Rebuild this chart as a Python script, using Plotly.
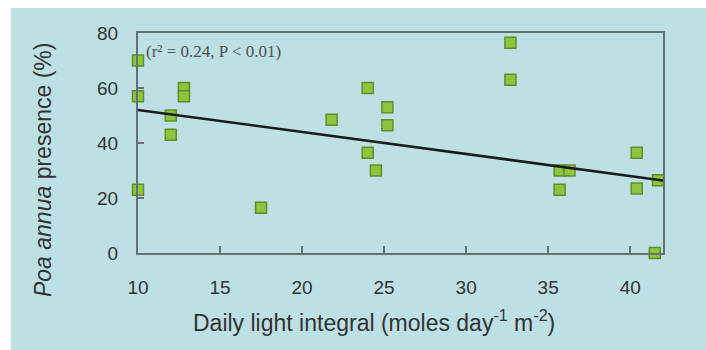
import plotly.graph_objects as go
import numpy as np

# Data
light_integral = [10.0, 10.0, 10.0, 12.0, 12.0, 12.8, 12.8, 17.5, 21.8, 24.0, 24.0, 24.5,
                  25.2, 25.2, 32.7, 32.7, 35.7, 36.3, 35.7, 40.4, 40.4, 41.7, 41.5]
poa_presence = [70.0, 57.0, 23.0, 50.0, 43.0, 60.0, 57.0, 16.5, 48.5, 60.0, 36.5, 30.0,
                53.0, 46.5, 76.5, 63.0, 30.0, 30.0, 23.0, 36.5, 23.5, 26.5, 0.0]

fit_intercept = 60.0   # regression y = intercept + slope * x
fit_slope = -0.8
fit_x = [10.0, 42.0]
fit_y = [fit_intercept + fit_slope * v for v in fit_x]

x_ticks = [10, 15, 20, 25, 30, 35, 40]
y_ticks = [0, 20, 40, 60, 80]

x_title = "Daily light integral (moles day<sup>-1</sup> m<sup>-2</sup>)"
y_title = "<i>Poa annua</i> presence (%)"
stat_label = "(r² = 0.24, P < 0.01)"

BG = "#bde0e5"
AXIS = "#65716f"
TEXT = "#333333"
font_sans = "Liberation Sans, Arial, sans-serif"

fig = go.Figure()
fig.add_trace(go.Scatter(
    x=light_integral, y=poa_presence, mode="markers",
    marker=dict(symbol="square", size=11, color="#8cc63e",
                line=dict(color="#5e8f2c", width=1.5)),
    cliponaxis=False, showlegend=False))
fig.add_trace(go.Scatter(
    x=fit_x, y=fit_y, mode="lines",
    line=dict(color="#1c1c1c", width=2.5),
    cliponaxis=False, showlegend=False))

# white strips at the top and left edges
fig.add_shape(type="rect", xref="paper", yref="paper",
              x0=-0.3, x1=-0.2419, y0=-0.8, y1=1.3,
              fillcolor="white", line=dict(width=0), layer="below")
fig.add_shape(type="rect", xref="paper", yref="paper",
              x0=-0.3, x1=1.3, y0=1.1136, y1=1.3,
              fillcolor="white", line=dict(width=0), layer="below")

fig.add_annotation(
    text=stat_label, xref="paper", yref="paper",
    x=0.012, y=0.915, xanchor="left", yanchor="middle", showarrow=False,
    font=dict(family="Liberation Serif, Times New Roman, serif", size=17, color="#505050"))

# axis titles
fig.add_annotation(
    text=x_title, xref="paper", yref="paper", x=0.4495, y=-0.309,
    xanchor="center", yanchor="middle", showarrow=False,
    font=dict(family=font_sans, size=23, color=TEXT))
fig.add_annotation(
    text=y_title, xref="paper", yref="paper", x=-0.181, y=0.377,
    xanchor="center", yanchor="middle", showarrow=False, textangle=-90,
    font=dict(family=font_sans, size=23, color=TEXT))

fig.update_layout(
    width=706, height=350,
    margin=dict(l=138, r=43, t=33, b=97),
    paper_bgcolor=BG, plot_bgcolor="rgba(0,0,0,0)",
    font=dict(family=font_sans, color=TEXT),
    xaxis=dict(range=[10, 42], tickvals=x_ticks, ticks="inside", ticklen=7,
               tickwidth=1.5, tickcolor=AXIS, showline=True, linecolor=AXIS,
               linewidth=2, mirror=True, showgrid=False, zeroline=False,
               automargin=False,
               tickfont=dict(size=19, color=TEXT), ticklabelstandoff=16),
    yaxis=dict(range=[0, 80], tickvals=y_ticks, ticks="inside", ticklen=6,
               tickwidth=1.5, tickcolor=AXIS, showline=True, linecolor=AXIS,
               linewidth=2, mirror=True, showgrid=False, zeroline=False,
               automargin=False,
               tickfont=dict(size=19, color=TEXT), ticklabelstandoff=14),
)

fig.write_html("out.html",
               config={"displayModeBar": False},
               post_script="document.body.style.margin='0px';")
